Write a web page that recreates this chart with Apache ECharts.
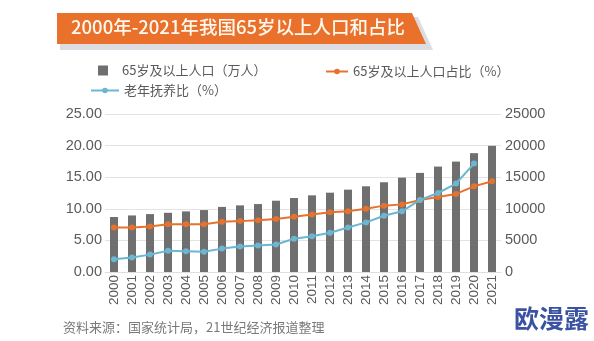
<!DOCTYPE html>
<html>
<head>
<meta charset="utf-8">
<script src="https://cdn.jsdelivr.net/npm/echarts@6/dist/echarts.min.js"></script>
<style>
  html, body { margin: 0; padding: 0; background: #ffffff; }
  #chart { width: 594px; height: 341px; }
</style>
</head>
<body>
<div id="chart"></div>
<script>
// Years on the category axis
var years = ['2000','2001','2002','2003','2004','2005','2006','2007','2008','2009','2010',
             '2011','2012','2013','2014','2015','2016','2017','2018','2019','2020','2021'];

// Population aged 65 and over (10k persons), right axis
var population65 = [8700, 8950, 9160, 9370, 9590, 9800, 10300, 10540, 10750, 11280, 11700,
                    12130, 12550, 13030, 13560, 14200, 14930, 15680, 16680, 17470, 18800, 19960];

// Share of population aged 65 and over (%), left axis
var share65 = [7.05, 7.05, 7.2, 7.55, 7.55, 7.55, 7.95, 8.05, 8.2, 8.4, 8.75,
               9.1, 9.45, 9.6, 10.0, 10.5, 10.7, 11.4, 11.85, 12.35, 13.55, 14.35];

// Old-age dependency ratio (%), left axis; no value for 2021
var dependency = [2.0, 2.3, 2.75, 3.35, 3.3, 3.2, 3.7, 4.05, 4.2, 4.35, 5.25,
                  5.65, 6.2, 7.05, 7.85, 8.9, 9.6, 11.4, 12.5, 14.0, 17.15, '-'];

// Axis ticks
var leftTicks = [0, 25, 5];
var rightTicks = [0, 25000, 5000];

var names = {
  bar: '65岁及以上人口（万人）',
  share: '65岁及以上人口占比（%）',
  dep: '老年抚养比（%）'
};

var FONT = '"Liberation Sans", "Noto Sans CJK SC", sans-serif';
var CJK = '"Noto Sans CJK SC", "Liberation Sans", sans-serif';
var GREY_BAR = '#6f6f6f';
var ORANGE = '#e8722c';
var BLUE = '#6bb6d2';
var LABEL = '#5a5a5a';

var chart = echarts.init(document.getElementById('chart'), null, { renderer: 'canvas' });

chart.setOption({
  backgroundColor: '#ffffff',
  animation: false,
  graphic: [
    {
      type: 'polygon', z: 1,
      shape: { points: [[60, 17], [418, 17], [433, 50], [60, 50]] },
      style: { fill: '#dcdce3' }
    },
    {
      type: 'polygon', z: 2,
      shape: { points: [[57, 13], [412, 13], [426, 44], [57, 44]] },
      style: { fill: '#e9712b' }
    },
    {
      type: 'text', z: 3, left: 71, top: 18,
      style: {
        text: '2000年-2021年我国65岁以上人口和占比',
        fill: '#fff8ee',
        font: '500 18.5px ' + CJK
      }
    },
    {
      type: 'text', z: 3, left: 63, top: 321,
      style: {
        text: '资料来源：国家统计局，21世纪经济报道整理',
        fill: '#7a7a7a',
        font: '13px ' + CJK
      }
    },
    {
      type: 'text', z: 3, left: 514, top: 306,
      style: {
        text: '欧漫露',
        fill: '#3b52a3',
        font: 'bold 25px ' + CJK
      }
    }
  ],
  legend: [
    {
      left: 98, top: 64, padding: 0,
      itemWidth: 10, itemHeight: 10,
      data: [{ name: names.bar, icon: 'rect' }],
      textStyle: { color: LABEL, fontSize: 13, fontFamily: CJK, padding: [0, 0, 0, 9] }
    },
    {
      left: 325, top: 65, padding: 0,
      itemWidth: 22, itemHeight: 7,
      data: [names.share],
      textStyle: { color: LABEL, fontSize: 13, fontFamily: CJK }
    },
    {
      left: 90, top: 84, padding: 0,
      itemWidth: 28, itemHeight: 7,
      data: [names.dep],
      textStyle: { color: LABEL, fontSize: 13, fontFamily: CJK }
    }
  ],
  grid: { left: 105, right: 93, top: 114, bottom: 69, containLabel: false },
  xAxis: {
    type: 'category',
    data: years,
    axisLine: { show: true, lineStyle: { color: '#dedede' } },
    axisTick: { show: false },
    axisLabel: {
      rotate: 90, interval: 0, margin: 3,
      color: LABEL, fontSize: 13.5, fontFamily: FONT
    }
  },
  yAxis: [
    {
      type: 'value', position: 'left',
      min: leftTicks[0], max: leftTicks[1], interval: leftTicks[2],
      axisLine: { show: false }, axisTick: { show: false },
      splitLine: { lineStyle: { color: '#e3e3e3', width: 1 } },
      axisLabel: {
        margin: 3, color: LABEL, fontSize: 14.5, fontFamily: FONT,
        formatter: function (v) { return v.toFixed(2); }
      }
    },
    {
      type: 'value', position: 'right',
      min: rightTicks[0], max: rightTicks[1], interval: rightTicks[2],
      axisLine: { show: false }, axisTick: { show: false },
      splitLine: { show: false },
      axisLabel: {
        margin: 4, color: LABEL, fontSize: 14.5, fontFamily: FONT,
        formatter: function (v) { return String(v); }
      }
    }
  ],
  series: [
    {
      name: names.bar, type: 'bar', yAxisIndex: 1,
      data: population65, barWidth: 8,
      itemStyle: { color: GREY_BAR }
    },
    {
      name: names.share, type: 'line', yAxisIndex: 0,
      data: share65,
      symbol: 'circle', symbolSize: 6,
      lineStyle: { color: ORANGE, width: 2 },
      itemStyle: { color: ORANGE }
    },
    {
      name: names.dep, type: 'line', yAxisIndex: 0,
      data: dependency,
      symbol: 'circle', symbolSize: 6,
      lineStyle: { color: BLUE, width: 2 },
      itemStyle: { color: BLUE }
    }
  ]
});
</script>
</body>
</html>
